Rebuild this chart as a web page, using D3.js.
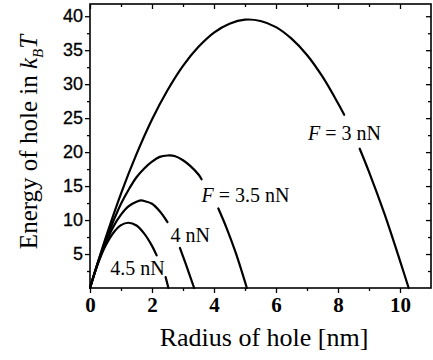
<!DOCTYPE html>
<html>
<head>
<meta charset="utf-8">
<script src="https://cdn.jsdelivr.net/npm/d3@7"></script>
<style>
  body { margin: 0; background: #fff; }
  svg { display: block; }
  .serif { font-family: "Liberation Serif", "Times New Roman", Times, "DejaVu Serif", serif; }
  .sans { font-family: "Liberation Sans", Arial, Helvetica, sans-serif; }
</style>
</head>
<body>
<svg width="433" height="360"></svg>
<script>
// curves: [radius nm, energy kBT], two visible pieces each (labels cut a gap)
const f30a = [[0,0],[0.5,7.3],[1,13.9],[1.5,19.7],[2,24.8],[2.5,29.1],[3,32.7],[3.5,35.5],[4,37.6],[4.5,38.9],[5,39.5],[5.5,39.3],[6,38.4],[6.5,36.7],[7,34.3],[7.5,31.1],[8,27.2],[8.2,25.5]];
const f30b = [[8.7,20.5],[9,17.1],[9.5,10.9],[10,4.0],[10.28,0]];
const f35a = [[0,0],[0.25,3.7],[0.5,6.9],[0.75,9.8],[1,12.4],[1.25,14.5],[1.5,16.3],[1.75,17.6],[2,18.6],[2.25,19.3],[2.5,19.5],[2.75,19.4],[3,18.8],[3.25,17.9],[3.5,16.7],[3.6,16.0]];
const f35b = [[4.14,11.7],[4.4,8.9],[4.7,5.2],[5.06,0]];
const f40a = [[0,0],[0.25,3.6],[0.5,6.55],[0.75,9.0],[1,10.8],[1.25,12.05],[1.5,12.7],[1.67,12.9],[1.75,12.8],[2,12.4],[2.25,11.3],[2.5,9.7]];
const f40b = [[2.9,5.9],[3.1,3.4],[3.36,0]];
const f45a = [[0,0],[0.25,3.5],[0.5,6.2],[0.75,8.1],[1,9.25],[1.24,9.6],[1.5,9.2],[1.75,8.0],[2,6.2],[2.15,4.8]];
const f45b = [[2.44,1.6],[2.53,0]];

const xTicks = [0, 2, 4, 6, 8, 10];
const yTicks = [5, 10, 15, 20, 25, 30, 35, 40];

const labels = [
  { f: true, txt: " = 3 nN", r: 7.03, e: 21.8 },
  { f: true, txt: " = 3.5 nN", r: 3.6, e: 12.7 },
  { f: false, txt: "4 nN", r: 2.6, e: 6.8 },
  { f: false, txt: "4.5 nN", r: 0.65, e: 1.9 }
];

const svg = d3.select("svg");
const pl = 90, pr = 431, pt = 4, pb = 288;

const x = d3.scaleLinear().domain([0, 11]).range([pl, pr]);
const y = d3.scaleLinear().domain([0, 41.8]).range([pb, pt]);

// minor ticks
const xMinor = d3.range(1, 11, 2);
const yMinor = d3.range(2.5, 41, 5);

const ax = svg.append("g");

// bottom axis (outward)
const xb = ax.append("g").attr("transform", `translate(0,${pb})`)
  .call(d3.axisBottom(x).tickValues(xTicks).tickSize(5).tickPadding(4).tickFormat(d3.format("d")));
xb.attr("font-family", null).attr("font-size", null);
xb.selectAll("text").attr("class", "serif").style("font-size", "21px").style("font-weight", "bold").attr("fill", "#000");
xb.append("g").call(d3.axisBottom(x).tickValues(xMinor).tickSize(3).tickFormat(""));

// left axis (outward)
const yl = ax.append("g").attr("transform", `translate(${pl},0)`)
  .call(d3.axisLeft(y).tickValues(yTicks).tickSize(5).tickPadding(2));
yl.attr("font-family", null).attr("font-size", null);
yl.selectAll("text").attr("class", "sans").style("font-size", "18px")
  .attr("fill", "#000").attr("stroke", "#000").attr("stroke-width", 0.3);
yl.append("g").call(d3.axisLeft(y).tickValues(yMinor).tickSize(3).tickFormat(""));

// top axis (inward)
const xt = ax.append("g").attr("transform", `translate(0,${pt})`)
  .call(d3.axisBottom(x).tickValues(xTicks).tickSize(5).tickFormat(""));
xt.append("g").call(d3.axisBottom(x).tickValues(xMinor).tickSize(3).tickFormat(""));

// right axis (inward)
const yr = ax.append("g").attr("transform", `translate(${pr},0)`)
  .call(d3.axisLeft(y).tickValues(yTicks).tickSize(5).tickFormat(""));
yr.append("g").call(d3.axisLeft(y).tickValues(yMinor).tickSize(3).tickFormat(""));

ax.selectAll(".domain").remove();
ax.selectAll("line").attr("stroke", "#000").attr("stroke-width", 1.3);

svg.append("rect")
  .attr("x", pl).attr("y", pt)
  .attr("width", pr - pl).attr("height", pb - pt)
  .attr("fill", "none").attr("stroke", "#000").attr("stroke-width", 1.6);

// curves
const line = d3.line().x(d => x(d[0])).y(d => y(d[1])).curve(d3.curveCatmullRom);
svg.append("g").selectAll("path")
  .data([f30a, f30b, f35a, f35b, f40a, f40b, f45a, f45b])
  .join("path")
  .attr("d", line)
  .attr("fill", "none")
  .attr("stroke", "#000")
  .attr("stroke-width", 2.2)
  .attr("stroke-linecap", "round");

// curve labels
const lab = svg.append("g").selectAll("text")
  .data(labels)
  .join("text")
  .attr("class", "serif")
  .attr("x", d => x(d.r))
  .attr("y", d => y(d.e))
  .style("font-size", "20px")
  .attr("fill", "#000");
lab.filter(d => d.f).append("tspan").style("font-style", "italic").text("F");
lab.append("tspan").text(d => d.txt);

// axis titles
svg.append("text")
  .attr("class", "serif")
  .attr("x", 264).attr("y", 346)
  .attr("text-anchor", "middle")
  .style("font-size", "26px")
  .text("Radius of hole [nm]");

const yt = svg.append("text")
  .attr("class", "serif")
  .attr("transform", "translate(37,142) rotate(-90)")
  .attr("text-anchor", "middle")
  .style("font-size", "25px");
yt.append("tspan").text("Energy of hole in ");
yt.append("tspan").style("font-style", "italic").text("k");
yt.append("tspan").style("font-style", "italic").style("font-size", "15px").attr("dy", 6).text("B");
yt.append("tspan").style("font-style", "italic").attr("dy", -6).text("T");
</script>
</body>
</html>
